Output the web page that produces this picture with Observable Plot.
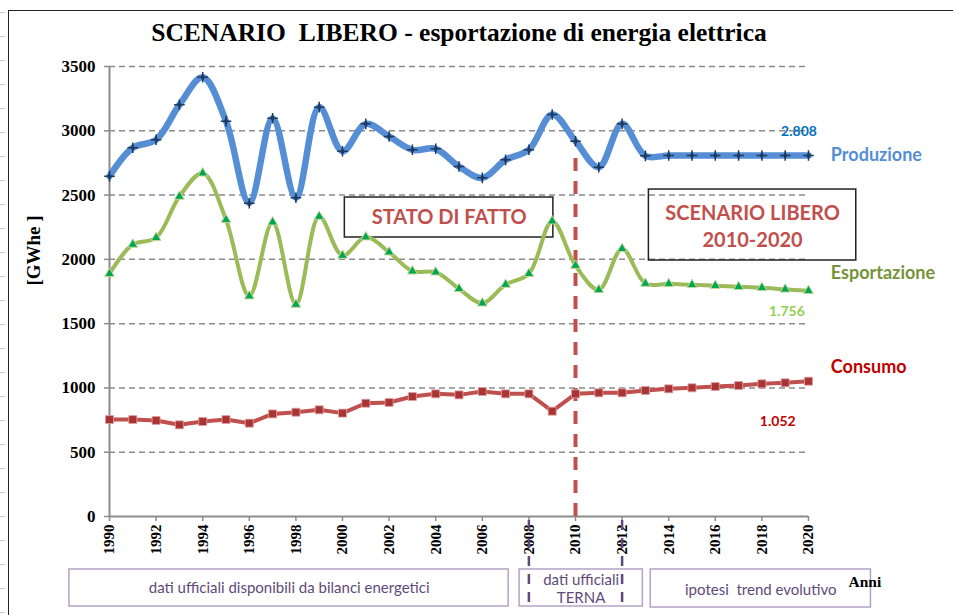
<!DOCTYPE html>
<html><head><meta charset="utf-8">
<script src="https://cdn.jsdelivr.net/npm/d3@7"></script>
<script src="https://cdn.jsdelivr.net/npm/@observablehq/plot@0.6"></script>
<style>
html,body{margin:0;padding:0;background:#fff;}
#wrap{position:relative;width:953px;height:615px;overflow:hidden;}
#frame{position:absolute;left:8px;top:10px;width:960px;height:620px;border-left:1.5px solid #222;border-top:1.5px solid #222;}
#ruler{position:absolute;left:0;top:0;width:5px;height:615px;background:repeating-linear-gradient(to bottom,transparent 0 12px,#c8c8c8 12px 13px,transparent 13px 24px);}
#chart{position:absolute;left:0;top:0;}
</style></head><body>
<div id="wrap"><div id="ruler"></div><div id="frame"></div><div id="chart"></div></div>
<script>
// ---- data ----
const years = [1990,1991,1992,1993,1994,1995,1996,1997,1998,1999,2000,2001,2002,2003,2004,2005,2006,2007,2008,2009,2010,2011,2012,2013,2014,2015,2016,2017,2018,2019,2020];
const produzione = [2647,2868,2930,3202,3417,3075,2437,3098,2479,3184,2841,3054,2956,2852,2860,2722,2634,2774,2852,3127,2919,2717,3054,2805,2808,2808,2808,2808,2808,2808,2808];
const esportazione = [1888,2116,2168,2489,2670,2308,1714,2289,1649,2333,2030,2173,2056,1908,1900,1771,1659,1804,1888,2297,1952,1763,2082,1812,1810,1802,1795,1787,1779,1767,1756];
const consumo = [754,754,747,713,739,754,726,798,811,830,804,881,887,933,954,946,972,954,954,819,954,962,962,980,993,1001,1011,1019,1032,1040,1052];
const yTicks = [0,500,1000,1500,2000,2500,3000,3500];
const xTicks = [1990,1992,1994,1996,1998,2000,2002,2004,2006,2008,2010,2012,2014,2016,2018,2020];

const title = "SCENARIO  LIBERO - esportazione di energia elettrica";
const yLabel = [{x:1990, y:2069, text:"[GWhe ]"}];
// annotations (data coordinates)
const scenarioBoxes = [
  {x1:2000.1, x2:2009.05, y1:2481, y2:2170},
  {x1:2013.15, x2:2022.05, y1:2543, y2:1991}
];
const scenarioLabels = [
  {x:2004.58, y:2325, text:"STATO DI FATTO"},
  {x:2017.6, y:2357, text:"SCENARIO LIBERO"},
  {x:2017.6, y:2147, text:"2010-2020"}
];
const seriesLabels = [
  {x:2020.96, y:2808, text:"Produzione", color:"#558ed5"},
  {x:2020.96, y:1890, text:"Esportazione", color:"#77933c"},
  {x:2020.96, y:1159, text:"Consumo", color:"#c00000"}
];
const valueLabels = [
  {x:2020.36, y:2994, text:"2.808", color:"#0070c0"},
  {x:2019.84, y:1594, text:"1.756", color:"#92d050"},
  {x:2019.45, y:739, text:"1.052", color:"#c00000"}
];
const periodBoxes = [
  {x1:1988.28, x2:2007.13, y1:-412, y2:-700},
  {x1:2007.6, x2:2012.89, y1:-412, y2:-700},
  {x1:2013.23, x2:2022.68, y1:-412, y2:-708}
];
const periodLabels = [
  {x:1997.71, y:-560, text:"dati ufficiali disponibili da bilanci energetici"},
  {x:2010.24, y:-498, text:"dati ufficiali"},
  {x:2010.24, y:-638, text:"TERNA"},
  {x:2017.95, y:-576, text:"ipotesi  trend evolutivo"}
];
const periodDividers = [2008, 2012];
const scenarioStart = [2010];
const anni = [{x:2022.42, y:-506, text:"Anni"}];

const data = years.map((y,i)=>({year:y, produzione:produzione[i], esportazione:esportazione[i], consumo:consumo[i]}));
const serif = "'Liberation Serif', 'Times New Roman', serif";
const sans = "Lato, 'Open Sans', sans-serif";

const chart = Plot.plot({
  width:953, height:615,
  marginLeft:109, marginRight:145, marginTop:66, marginBottom:99,
  style:{background:"transparent", overflow:"visible", fontFamily:serif},
  x:{domain:[1990,2020]},
  y:{domain:[0,3500]},
  marks:[
    Plot.ruleY(yTicks.filter(d=>d>0), {stroke:"#8c8c8c", strokeWidth:1.5, strokeDasharray:"6,4"}),
    Plot.axisY({ticks:yTicks, tickSize:5, tickPadding:9, stroke:"#8c8c8c", strokeWidth:1.5, fill:"#000", fontSize:17, fontWeight:"bold", fontFamily:serif, label:null, tickFormat:d=>String(d)}),
    Plot.axisX({ticks:xTicks, tickSize:5, tickPadding:3, tickRotate:-90, stroke:"#8c8c8c", strokeWidth:1.5, fill:"#000", fontSize:15, fontWeight:"bold", fontFamily:serif, label:null, tickFormat:d=>String(d)}),
    Plot.ruleX([1990], {stroke:"#8c8c8c", strokeWidth:2}),
    Plot.ruleY([0], {stroke:"#8c8c8c", strokeWidth:2}),
    Plot.text(yLabel, {x:"x", y:"y", text:"text", dx:-76, rotate:-90, textAnchor:"middle", lineAnchor:"middle", fontSize:19, fontWeight:"bold", fontFamily:serif, fill:"#000"}),
    Plot.text([title], {frameAnchor:"top", dy:-34, lineAnchor:"middle", fontSize:25.5, fontWeight:"bold", fontFamily:serif, fill:"#000"}),
    Plot.rect(scenarioBoxes, {x1:"x1", x2:"x2", y1:"y1", y2:"y2", fill:"none", stroke:"#222", strokeWidth:1.5}),
    Plot.text(scenarioLabels, {x:"x", y:"y", text:"text", fill:"#c0504d", fontSize:20, fontWeight:"bold", fontFamily:sans}),
    Plot.ruleX(scenarioStart, {y1:0, y2:2850, stroke:"#c0504d", strokeWidth:4, strokeDasharray:"13,10"}),
    Plot.line(data, {x:"year", y:"produzione", stroke:"#558ed5", strokeWidth:6.5, curve:"catmull-rom"}),
    Plot.line(data, {x:"year", y:"esportazione", stroke:"#9bbb59", strokeWidth:4, curve:"catmull-rom"}),
    Plot.line(data, {x:"year", y:"consumo", stroke:"#c0504d", strokeWidth:4}),
    Plot.dot(data, {x:"year", y:"produzione", symbol:"plus", r:3.5, stroke:"#1f3a60", strokeWidth:1.5}),
    Plot.dot(data, {x:"year", y:"produzione", symbol:"diamond", r:2.3, fill:"#1f3a60"}),
    Plot.dot(data, {x:"year", y:"esportazione", symbol:"triangle", r:3.6, fill:"#00a650", stroke:"#c3d69b", strokeWidth:1}),
    Plot.dot(data, {x:"year", y:"consumo", symbol:"square", r:4.5, fill:"#a83535", stroke:"#e4a0a0", strokeWidth:0.8}),
    Plot.text(seriesLabels, {x:"x", y:"y", text:"text", fill:"color", textAnchor:"start", fontSize:18, fontWeight:"bold", fontFamily:sans}),
    Plot.text(valueLabels, {x:"x", y:"y", text:"text", fill:"color", textAnchor:"end", fontSize:14, fontWeight:"bold", fontFamily:sans}),
    Plot.rect(periodBoxes, {x1:"x1", x2:"x2", y1:"y1", y2:"y2", fill:"none", stroke:"#b3a2c7", strokeWidth:1.5}),
    Plot.ruleX(periodDividers, {y1:-31, y2:-692, stroke:"#5f497a", strokeWidth:2.5, strokeDasharray:"10,8"}),
    Plot.text(periodLabels, {x:"x", y:"y", text:"text", fill:"#604a7b", fontSize:15, fontFamily:sans}),
    Plot.text(anni, {x:"x", y:"y", text:"text", fill:"#000", fontSize:15.5, fontWeight:"bold", fontFamily:serif})
  ]
});
document.getElementById("chart").appendChild(chart);
</script>
</body></html>
